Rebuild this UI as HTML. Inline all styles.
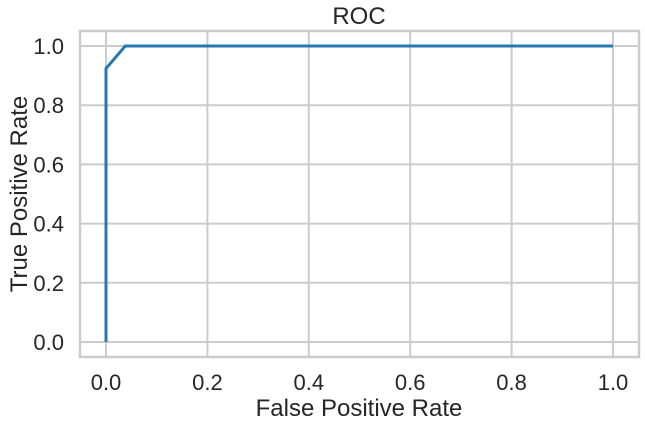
<!DOCTYPE html>
<html><head><meta charset="utf-8"><style>
body{margin:0;background:#fff;}
svg text{font-family:"Liberation Sans",Arial,sans-serif;fill:#262626;}
</style></head><body>
<svg width="645" height="427">
<g id="grid"></g>
<rect x="80" y="31" width="559" height="326" fill="none" stroke="#cccccc" stroke-width="2.5"/>
<g id="ticks"></g>
<polyline id="roc" fill="none" stroke="#2678b2" stroke-width="3"/>
<text x="359" y="24" font-size="24" text-anchor="middle">ROC</text>
<text x="359" y="416" font-size="24" text-anchor="middle">False Positive Rate</text>
<text transform="translate(27,194) rotate(-90)" font-size="24" text-anchor="middle">True Positive Rate</text>
</svg>
<script>
const fpr=[0,0,0.038,1];
const tpr=[0,0.924,1,1];
const xTicks=[0,0.2,0.4,0.6,0.8,1.0];
const yTicks=[0,0.2,0.4,0.6,0.8,1.0];
const X=v=>106+v*507, Y=v=>342-v*296;
const ns="http://www.w3.org/2000/svg";
const g=document.getElementById('grid'), t=document.getElementById('ticks');
xTicks.forEach(v=>{
 const l=document.createElementNS(ns,'line');
 l.setAttribute('x1',X(v));l.setAttribute('x2',X(v));l.setAttribute('y1',31);l.setAttribute('y2',357);
 l.setAttribute('stroke','#cccccc');l.setAttribute('stroke-width','2');
 
 
 g.appendChild(l);
 const s=document.createElementNS(ns,'text');
 s.setAttribute('x',X(v));s.setAttribute('y',390);s.setAttribute('font-size','22');s.setAttribute('text-anchor','middle');
 s.textContent=v.toFixed(1);
 
 
 t.appendChild(s);
});
yTicks.forEach(v=>{
 const l=document.createElementNS(ns,'line');
 l.setAttribute('y1',Y(v));l.setAttribute('y2',Y(v));l.setAttribute('x1',80);l.setAttribute('x2',639);
 l.setAttribute('stroke','#cccccc');l.setAttribute('stroke-width','2');
 
 
 g.appendChild(l);
 const s=document.createElementNS(ns,'text');
 s.setAttribute('x',64);s.setAttribute('y',Y(v)+8);s.setAttribute('font-size','22');s.setAttribute('text-anchor','end');
 s.textContent=v.toFixed(1);
 
 
 t.appendChild(s);
});
document.getElementById('roc').setAttribute('points',fpr.map((v,i)=>X(v)+','+Y(tpr[i])).join(' '));
</script>
</body></html>
